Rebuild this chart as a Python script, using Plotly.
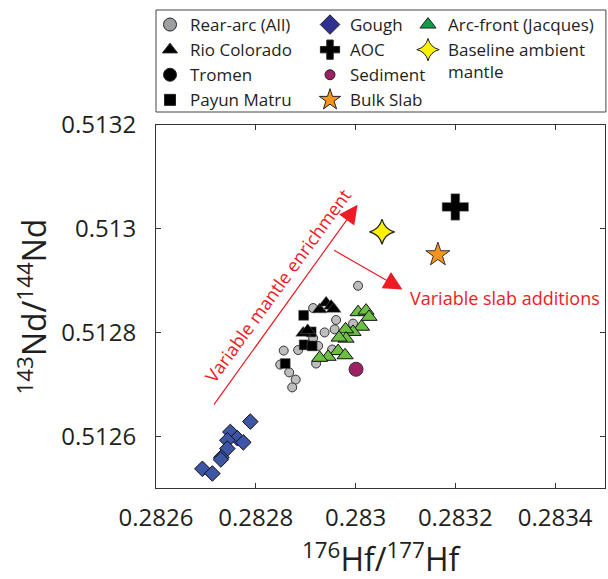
import plotly.graph_objects as go

# --- data ---
rear_hf = [0.283005, 0.282915, 0.282961, 0.282995, 0.282958, 0.282938, 0.282915, 0.282856,
           0.282885, 0.282925, 0.282953, 0.282849, 0.282867, 0.282880, 0.282873, 0.282921]
rear_nd = [0.512890, 0.512847, 0.512824, 0.512817, 0.512806, 0.512800, 0.512789, 0.512765,
           0.512766, 0.512774, 0.512767, 0.512738, 0.512723, 0.512709, 0.512694, 0.512740]

rio_hf = [0.282928, 0.282941, 0.282951, 0.282956, 0.282895, 0.282904]
rio_nd = [0.512844, 0.512857, 0.512851, 0.512845, 0.512799, 0.512804]

tromen_hf = []
tromen_nd = []

payun_hf = [0.282896, 0.282911, 0.282897, 0.282913, 0.282859]
payun_nd = [0.512833, 0.512801, 0.512776, 0.512774, 0.512740]

gough_hf = [0.282789, 0.282749, 0.282763, 0.282775, 0.282743, 0.282743, 0.282731, 0.282730,
            0.282693, 0.282713]
gough_nd = [0.512628, 0.512608, 0.512596, 0.512588, 0.512592, 0.512576, 0.512559, 0.512555,
            0.512537, 0.512528]

arc_hf = [0.283005, 0.283021, 0.283027, 0.283012, 0.282995, 0.282980, 0.282981, 0.282967,
          0.282965, 0.282979, 0.282945, 0.282928]
arc_nd = [0.512839, 0.512842, 0.512830, 0.512811, 0.512801, 0.512806, 0.512788, 0.512790,
          0.512764, 0.512756, 0.512753, 0.512751]

aoc_hf, aoc_nd = [0.28320], [0.513042]
sed_hf, sed_nd = [0.283001], [0.512729]
slab_hf, slab_nd = [0.283165], [0.512950]
base_hf, base_nd = [0.283053], [0.512994]

x_ticks = [0.2826, 0.2828, 0.2830, 0.2832, 0.2834]
x_ticklabels = ["0.2826", "0.2828", "0.283", "0.2832", "0.2834"]
y_ticks = [0.5126, 0.5128, 0.5130, 0.5132]
y_ticklabels = ["0.5126", "0.5128", "0.513", "0.5132"]

# arrows: (tail, head) in data units
mantle_arrow = ((0.282714, 0.512658), (0.283004, 0.513046))
slab_arrow = ((0.282954, 0.512960), (0.283094, 0.512883))

FONT = "Open Sans"
RED = "#ED1C24"
INK = "#231F20"
W, H = 608, 579

fig = go.Figure()


def add_series(x, y, symbol, size, color, lw=1, lc="#222"):
    fig.add_trace(go.Scatter(
        x=x, y=y, mode="markers", showlegend=False, hoverinfo="skip",
        marker=dict(symbol=symbol, size=size, color=color, line=dict(width=lw, color=lc))))


add_series(rear_hf, rear_nd, "circle", 9, "#BDBDBD", 1, "#333")
add_series(payun_hf, payun_nd, "square", 10, "black", 0.5, "#666")
add_series(rio_hf, rio_nd, "triangle-up", 13, "black", 0.5, "#666")
add_series(tromen_hf, tromen_nd, "circle", 10, "black")
add_series(arc_hf, arc_nd, "triangle-up", 14, "#6DBE45", 1, "#111")
add_series(gough_hf, gough_nd, "diamond", 12, "#3C55A5", 1, "#111")
add_series(sed_hf, sed_nd, "circle", 14, "#9E1F63", 1, "#333")
add_series(slab_hf, slab_nd, "star", 18, "#F7941D", 1, "#333")
add_series(base_hf, base_nd, "star-diamond", 18, "#FFF200", 1.2, "#222")
add_series(aoc_hf, aoc_nd, "cross", 22, "black", 0.5, "#888")

# legend entries, three columns
legend_cols = [
    ("legend", [("Rear-arc (All)", "circle", "#9D9FA2", 13),
                ("Rio Colorado", "triangle-up", "black", 13),
                ("Tromen", "circle", "black", 13),
                ("Payun Matru", "square", "black", 11)]),
    ("legend2", [("Gough", "diamond", "#2E3192", 15),
                 ("AOC", "cross", "black", 16),
                 ("Sediment", "circle", "#9E1F63", 10),
                 ("Bulk Slab", "star", "#F7941D", 16)]),
    ("legend3", [("Arc-front (Jacques)", "triangle-up", "#0F9D48", 14),
                 ("Baseline ambient<br>mantle", "star-diamond", "#FFF200", 16)]),
]
for lg, items in legend_cols:
    for name, sym, col, sz in items:
        fig.add_trace(go.Scatter(
            x=[None], y=[None], mode="markers", name=name, legend=lg,
            marker=dict(symbol=sym, size=sz, color=col, line=dict(width=1, color="#222"))))

leg_common = dict(xref="container", yref="container", xanchor="left", yanchor="top",
                  bgcolor="rgba(0,0,0,0)", font=dict(family=FONT, size=17, color=INK),
                  tracegroupgap=0, itemsizing="trace", valign="top")
fig.update_layout(
    legend=dict(x=150 / W, y=1 - 7 / H, **leg_common),
    legend2=dict(x=310 / W, y=1 - 7 / H, **leg_common),
    legend3=dict(x=408 / W, y=1 - 7 / H, **leg_common),
)

# legend frame
fig.add_shape(type="rect", xref="paper", yref="paper", x0=0, x1=1.002,
              y0=1 + 13 / 363, y1=1 + 115 / 363, line=dict(color="#444", width=1))

# arrows and labels
for (tx, ty), (hx, hy) in (mantle_arrow, slab_arrow):
    fig.add_annotation(x=hx, y=hy, ax=tx, ay=ty, xref="x", yref="y", axref="x", ayref="y",
                       text="", showarrow=True, arrowhead=2, arrowsize=3.1, arrowwidth=1.2,
                       arrowcolor=RED)
fig.add_annotation(x=0.282843, y=0.512890, xref="x", yref="y", text="Variable mantle enrichment",
                   textangle=-54, showarrow=False, font=dict(family=FONT, size=18, color=RED))
fig.add_annotation(x=0.283105, y=0.512866, xref="x", yref="y", text="Variable slab additions",
                   xanchor="left", showarrow=False, font=dict(family=FONT, size=18, color=RED))

# axis titles
fig.add_annotation(x=0.503, y=-0.19, xref="paper", yref="paper", showarrow=False,
                   xanchor="center", yanchor="middle",
                   text="<sup>176</sup>Hf/<sup>177</sup>Hf", font=dict(family=FONT, size=32, color=INK))
fig.add_annotation(x=(31 - 156) / 449, y=0.5, xref="paper", yref="paper", showarrow=False,
                   xanchor="center", yanchor="middle", textangle=-90,
                   text="<sup>143</sup>Nd/<sup>144</sup>Nd",
                   font=dict(family=FONT, size=32, color=INK))

axis_common = dict(showline=True, mirror="ticks", linecolor="#333", linewidth=1, ticks="inside",
                   ticklen=5, tickcolor="#333", showgrid=False, zeroline=False,
                   tickfont=dict(family=FONT, size=24, color=INK))
fig.update_xaxes(range=[0.2826, 0.2835], tickvals=x_ticks, ticktext=x_ticklabels,
                 ticklabelstandoff=8, **axis_common)
fig.update_yaxes(range=[0.5125, 0.5132], tickvals=y_ticks, ticktext=y_ticklabels,
                 ticklabelstandoff=14, **axis_common)

fig.update_layout(width=W, height=H,
                  margin=dict(l=156, r=3, t=125, b=91, autoexpand=False),
                  plot_bgcolor="white", paper_bgcolor="white")

fig.write_html("out.html", config={"displayModeBar": False},
               post_script="document.body.style.margin = '0';")
